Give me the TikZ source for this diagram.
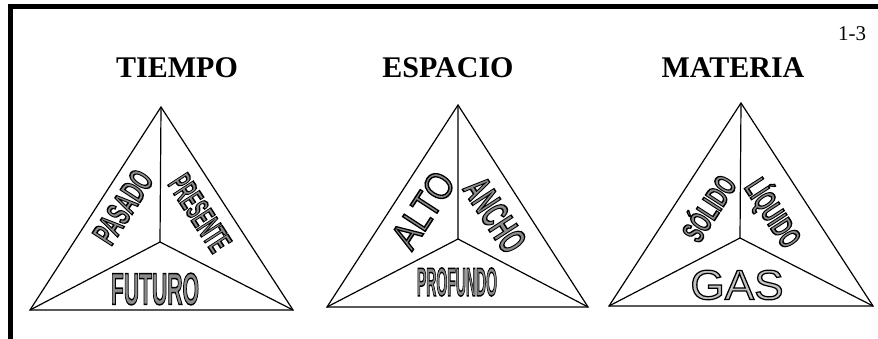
\documentclass[tikz,border=0pt]{standalone}
\usepackage{fontspec}
\usepackage{graphicx}
\setmainfont{Liberation Serif}
\newfontfamily\wordfont{Liberation Sans}
\definecolor{letterfill}{RGB}{140,140,140}
\definecolor{gasfill}{RGB}{195,195,195}
% outlined, squeezed lettering (fill + black stroke)
\newcommand{\hollow}[4][1.5]{\scalebox{#2}[1]{\textcolor{#3}{%
    \special{pdf:literal direct 0 G 2 Tr #1 w}#4\special{pdf:literal direct 0 Tr}}}}

\begin{document}
\begin{tikzpicture}[x=1pt, y=-1pt,
    side/.style={line width=1.2pt, line join=miter},
    title/.style={inner sep=0pt, font=\fontsize{30}{30}\selectfont\bfseries},
    word/.style={inner sep=0pt}]
    \useasboundingbox (0,0) rectangle (878,339);
    % Frame
    \draw[line width=5pt] (10.5,339) -- (10.5,6.5) -- (878,6.5);
    \node[inner sep=0pt, font=\fontsize{21}{21}\selectfont] (num) at (852,33.5) {1-3};

    % Titles
    \node[title] (tiempo) at (177,67.5) {TIEMPO};
    \node[title] (espacio) at (448,67.5) {ESPACIO};
    \node[title] (materia) at (733,67.5) {MATERIA};

    % Triangle 1
    \coordinate (a1) at (161,107);
    \coordinate (l1) at (30,310);
    \coordinate (r1) at (293,310);
    \coordinate (c1) at (160,242);
    \draw[side] (a1) -- (l1) -- (r1) -- cycle;
    \draw[side] (a1) -- (c1) (l1) -- (c1) -- (r1);
    \node[word, rotate=57] (pasado) at (123,207)
        {\wordfont\bfseries\fontsize{34}{34}\selectfont\hollow{0.56}{letterfill}{PASADO}};
    \node[word, rotate=-57] (presente) at (200,213)
        {\wordfont\bfseries\fontsize{34}{34}\selectfont\hollow{0.46}{letterfill}{PRESENTE}};
    \node[word] (futuro) at (155,289)
        {\wordfont\bfseries\fontsize{45}{45}\selectfont\hollow{0.47}{letterfill}{FUTURO}};

    % Triangle 2
    \coordinate (a2) at (458,105);
    \coordinate (l2) at (327,307);
    \coordinate (r2) at (588,307);
    \coordinate (c2) at (458,239);
    \draw[side] (a2) -- (l2) -- (r2) -- cycle;
    \draw[side] (a2) -- (c2) (l2) -- (c2) -- (r2);
    \node[word, rotate=57] (alto) at (423,210)
        {\wordfont\fontsize{39}{39}\selectfont\hollow{0.84}{letterfill}{ALTO}};
    \node[word, rotate=-57] (ancho) at (495,215)
        {\wordfont\bfseries\fontsize{39}{39}\selectfont\hollow{0.56}{letterfill}{ANCHO}};
    \node[word] (profundo) at (457,282)
        {\wordfont\bfseries\fontsize{40}{40}\selectfont\hollow{0.35}{letterfill}{PROFUNDO}};

    % Triangle 3
    \coordinate (a3) at (741,103);
    \coordinate (l3) at (609,306);
    \coordinate (r3) at (873,306);
    \coordinate (c3) at (740,238);
    \draw[side] (a3) -- (l3) -- (r3) -- cycle;
    \draw[side] (a3) -- (c3) (l3) -- (c3) -- (r3);
    \node[word, rotate=57] (solido) at (707,207)
        {\wordfont\bfseries\fontsize{31}{31}\selectfont\hollow{0.6}{letterfill}{SÓLIDO}};
    \node[word, rotate=-57] (liquido) at (773,213)
        {\wordfont\bfseries\fontsize{31}{31}\selectfont\hollow{0.58}{letterfill}{LÍQUIDO}};
    \node[word] (gas) at (737,285)
        {\wordfont\fontsize{42}{42}\selectfont\hollow[1.2]{1.05}{gasfill}{GAS}};
\end{tikzpicture}
\end{document}
